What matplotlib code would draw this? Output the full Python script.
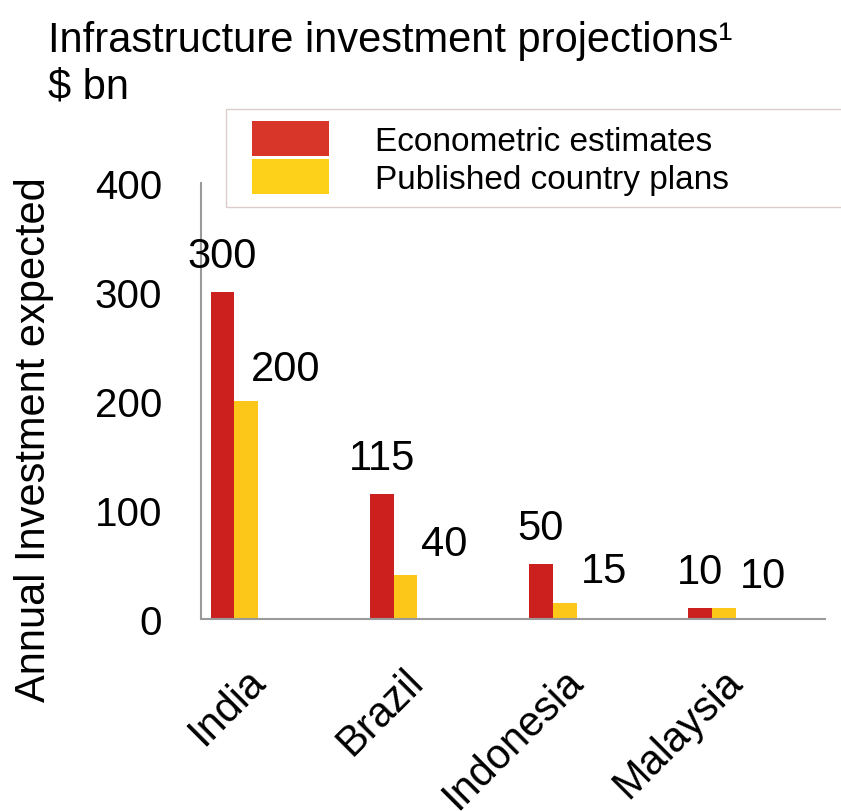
import matplotlib.pyplot as plt
import numpy as np
from matplotlib.patches import Patch, Rectangle
from matplotlib.legend_handler import HandlerPatch
from matplotlib.transforms import ScaledTranslation

plt.rcParams['font.family'] = ['Liberation Sans', 'DejaVu Sans']

countries = ['India', 'Brazil', 'Indonesia', 'Malaysia']
econometric = [300, 115, 50, 10]
published = [200, 40, 15, 10]
series_names = ['Econometric estimates', 'Published country plans']

red = '#cc201f'
yellow = '#fdc71a'

fig = plt.figure(figsize=(8.41, 8.12), dpi=100)
ax = fig.add_axes([0.239, 0.2365, 0.742, 0.537])

x = np.arange(len(countries))
w = 0.15
b1 = ax.bar(x - w / 2, econometric, w, color=red)
b2 = ax.bar(x + w / 2, published, w, color=yellow)

# value labels: red ones above the bar, yellow ones pushed up and right
for rect, v in zip(b1, econometric):
    ax.annotate(str(v), (rect.get_x() + rect.get_width() / 2, v),
                xytext=(0, 18), textcoords='offset points',
                ha='center', va='baseline', fontsize=30)
for rect, v in zip(b2, published):
    ax.annotate(str(v), (rect.get_x() + rect.get_width() / 2, v),
                xytext=(28, 15), textcoords='offset points',
                ha='center', va='baseline', fontsize=30)

ax.set_ylim(0, 400)
ax.set_xlim(-0.21, 3.71)
ax.set_yticks([0, 100, 200, 300, 400])
ax.set_xticks(x)
ax.set_xticklabels(countries, rotation=45, ha='right', rotation_mode='anchor')
ax.tick_params(axis='y', length=0, labelsize=29, pad=28)
ax.tick_params(axis='x', length=0, labelsize=30, pad=30)
shift = ScaledTranslation(0.1, 0, fig.dpi_scale_trans)
for lab in ax.get_xticklabels():
    lab.set_transform(lab.get_transform() + shift)
for s in ['top', 'right']:
    ax.spines[s].set_visible(False)
for s in ['left', 'bottom']:
    ax.spines[s].set_color('#9a9a9a')
    ax.spines[s].set_linewidth(1.5)

ax.set_ylabel('Annual Investment expected', fontsize=30)
ax.yaxis.set_label_coords(-0.236, 0.413)

fig.text(0.057, 0.936, 'Infrastructure investment projections¹', fontsize=30,
         va='baseline')
fig.text(0.057, 0.879, '$ bn', fontsize=30, va='baseline')


def offset_patch(legend, orig_handle, xdescent, ydescent, width, height, fontsize):
    off = 10
    return Rectangle((-xdescent + off, -ydescent), width - off, height)


handles = [Patch(facecolor='#d83628'), Patch(facecolor='#fdd01a')]
fig.legend(handles, series_names, loc='upper left',
           bbox_to_anchor=(0.2687, 0.7645, 0.8, 0.1), mode='expand',
           fontsize=24, handlelength=2.73, handleheight=1.24,
           labelspacing=0.08, handletextpad=1.38, borderpad=0.36,
           borderaxespad=0, fancybox=False, edgecolor='#dccccc', framealpha=1,
           handler_map={Patch: HandlerPatch(patch_func=offset_patch)})

fig.savefig('out.png', dpi=100)
